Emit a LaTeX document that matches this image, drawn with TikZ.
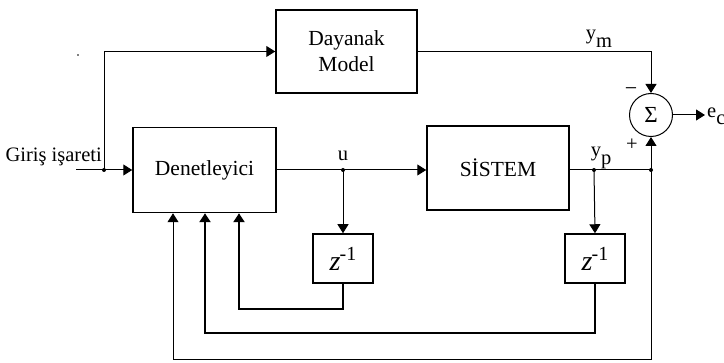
\documentclass[tikz,border=0pt]{standalone}
\usepackage{fontspec}
\setmainfont{Liberation Serif}
\usetikzlibrary{arrows.meta}
\tikzset{
  blk/.style={draw,line width=1.5pt,inner sep=0pt,font=\fontsize{21.5}{26}\selectfont,align=center},
  thinln/.style={line width=1pt},
  thickln/.style={line width=2.6pt},
  arr/.style={-{Triangle[length=9pt,width=11pt]}},
  lbl/.style={inner sep=0pt,font=\fontsize{20.5}{24}\selectfont},
  jdot/.style={circle,fill,inner sep=0pt,minimum size=4pt}
}
\newcommand\zinv{\fontsize{28}{28}\selectfont\textit{z}\kern-1pt\raisebox{10pt}{\fontsize{20}{20}\selectfont -1}}
\begin{document}
\begin{tikzpicture}[x=1pt,y=-1pt]
\useasboundingbox (0,0) rectangle (724,363);
\fill[white] (0,0) rectangle (724,363);
% blocks
\node[blk,minimum width=141pt,minimum height=83pt] (dm) at (346.5,51.5) {Dayanak\\Model};
\node[blk,minimum width=143pt,minimum height=85pt] (den) at (204.5,170) {Denetleyici};
\node[blk,minimum width=142pt,minimum height=84pt] (sys) at (498,168) {SİSTEM};
\node[blk,minimum width=60pt,minimum height=49pt] (z1) at (343,258.5) {\zinv};
\node[blk,minimum width=60pt,minimum height=49pt] (z2) at (595,258.5) {\zinv};
\node[draw,circle,line width=1pt,minimum size=43pt,inner sep=0pt,font=\fontsize{23}{23}\selectfont] (sum) at (651,115) {Σ};
% coordinates
\coordinate (in) at (76,170);
\coordinate (j0) at (104,170);
\coordinate (ju) at (343,170);
\coordinate (jp) at (594,170);
\coordinate (jr) at (651,170);
\coordinate (out) at (705,115);
\coordinate (f1) at (239,309);
\coordinate (f2) at (205,333);
\coordinate (f3) at (173,360);
% connectors
\draw[thinln,arr] (in) -- (den.west);
\draw[thinln,arr] (j0) |- (dm.west);
\draw[thinln,arr] (dm.east) -| (sum.north);
\draw[thinln,arr] (den.east) -- (den.east -| sys.west);
\draw[thinln] (den.east -| sys.east) -- (jr);
\draw[thinln,arr] (jr) -- (sum.south);
\draw[thinln,arr] (sum.east) -- (out);
\draw[thinln,arr] (ju) -- (z1.north);
\draw[thinln,arr] (jp) -- (z2.north);
\draw[thickln,arr] (z1.south) |- (f1) -- (f1 |- den.south);
\draw[thickln,arr] (z2.south) |- (f2) -- (f2 |- den.south);
\draw[thinln,arr] (jr) |- (f3) -- (f3 |- den.south);
% junction dots
\node[jdot] at (j0) {};
\node[jdot] at (ju) {};
\node[jdot] at (jp) {};
\node[jdot] at (jr) {};
\fill (78,55) circle (0.9pt);
% labels
\node[lbl,anchor=base east] at (102,162) {Giriş işareti};
\node[lbl] at (343,156) {u};
\node[lbl,anchor=base] (ym) at (599,40) {y\raisebox{-8pt}{m}};
\node[lbl,anchor=base] (yp) at (601,157) {y\raisebox{-8pt}{p}};
\node[lbl,anchor=base west] (ec) at (707,118) {e\raisebox{-7pt}{c}};
\node[lbl] at (631,92) {\fontsize{22}{22}\selectfont −};
\node[lbl] at (632,145) {+};
\end{tikzpicture}
\end{document}
